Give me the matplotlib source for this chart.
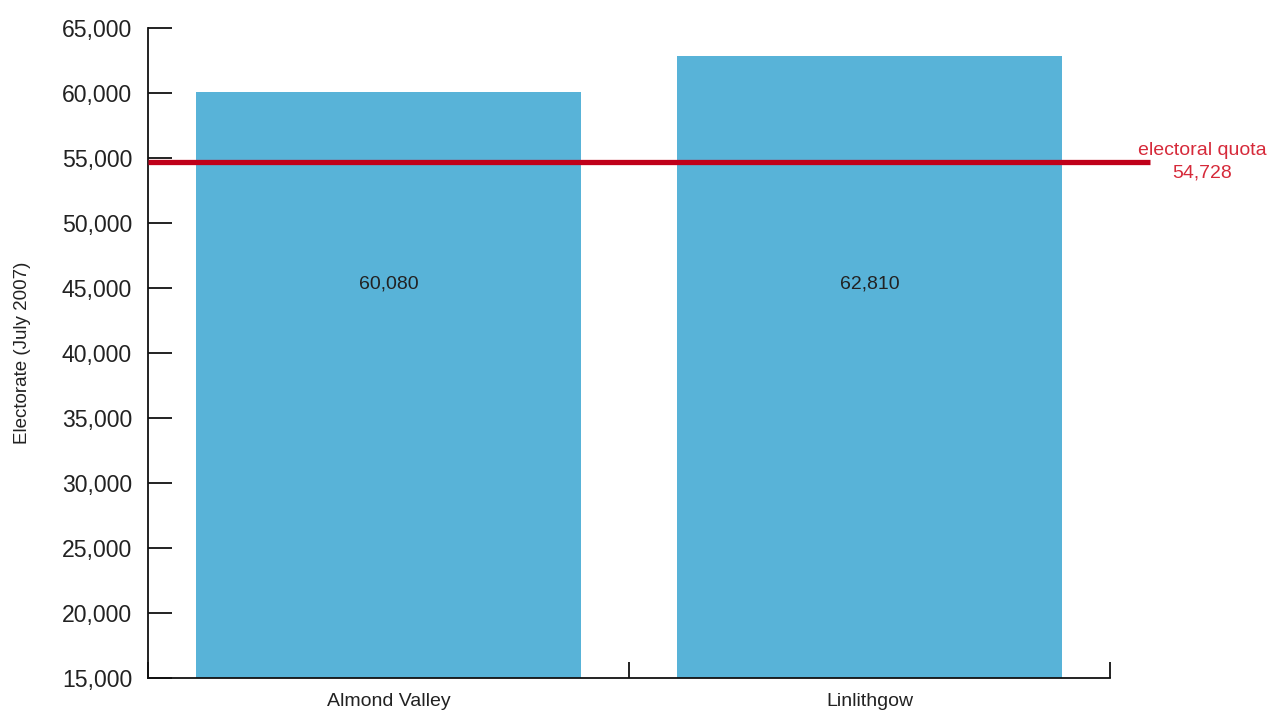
import matplotlib
matplotlib.use("Agg")
import matplotlib.pyplot as plt
from matplotlib.ticker import FuncFormatter, FixedLocator

categories = ["Almond Valley", "Linlithgow"]
electorate = [60080, 62810]
quota = 54728
y_ticks = list(range(15000, 65001, 5000))

plt.rcParams['font.family'] = ['Liberation Sans', 'DejaVu Sans']

W, H = 1268, 711
fig = plt.figure(figsize=(W / 100, H / 100), dpi=100)
ax = fig.add_axes([148 / W, 1 - 678 / H, (1110 - 148) / W, (678 - 28) / H])

x = list(range(len(categories)))
ax.bar(x, electorate, width=0.8, color="#58b3d8", zorder=2)
ax.set_xlim(-0.5, len(categories) - 0.5)
ax.set_ylim(15000, 65000)

for xi, v in zip(x, electorate):
    ax.text(xi, 45300, f"{v:,}", ha="center", va="center", fontsize=14, color="#222222", zorder=4)

# quota line extending beyond axes
ax.plot([-0.5, 1.583], [quota, quota], color="#c0001a", lw=3.8, clip_on=False, zorder=3,
        solid_capstyle="butt")
ax.text(1.691, quota, f"electoral quota\n{quota:,}", ha="center", va="center",
        fontsize=14, color="#d62a3a", linespacing=1.38)

ax.spines["top"].set_visible(False)
ax.spines["right"].set_visible(False)
for s in ("left", "bottom"):
    ax.spines[s].set_linewidth(1.3)
    ax.spines[s].set_color("#111111")

ax.yaxis.set_major_locator(FixedLocator(y_ticks))
ax.yaxis.set_major_formatter(FuncFormatter(lambda v, p: f"{int(v):,}"))
ax.tick_params(axis="y", direction="in", length=17, width=1.3, pad=11.5,
               labelsize=16.6, labelcolor="#222222", color="#111111")

ax.xaxis.set_major_locator(FixedLocator([-0.5, 0.5, 1.5]))
ax.xaxis.set_major_formatter(FuncFormatter(lambda v, p: ""))
ax.xaxis.set_minor_locator(FixedLocator(x))
ax.set_xticklabels(categories, minor=True)
ax.tick_params(axis="x", which="major", direction="in", length=11.5, width=1.3, color="#111111")
ax.tick_params(axis="x", which="minor", length=0, pad=11, labelsize=14, labelcolor="#222222")

ax.set_ylabel("Electorate (July 2007)", fontsize=13.5, color="#222222")
ax.yaxis.set_label_coords(-(148 - 22) / (1110 - 148), 0.5)
ax.yaxis.label.set_va("center")

fig.savefig("out.png", dpi=100)
